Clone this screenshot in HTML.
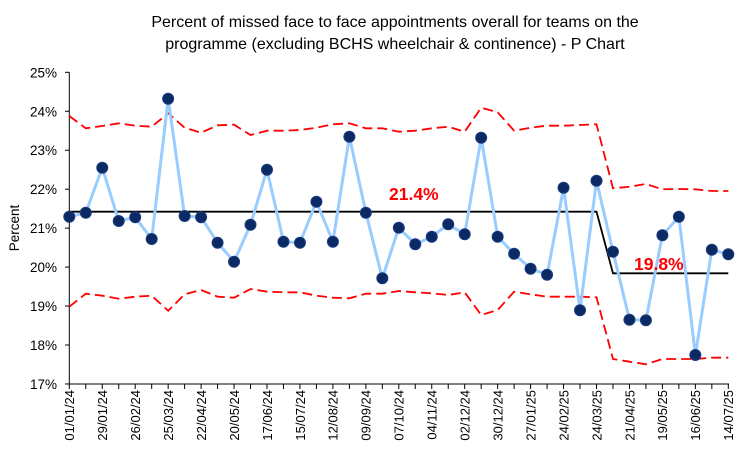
<!DOCTYPE html>
<html><head><meta charset="utf-8"><style>
body{margin:0;background:#fff;}
svg{display:block;font-family:"Liberation Sans",Arial,sans-serif;}
</style></head><body>
<svg id="c" width="752" height="453" xmlns="http://www.w3.org/2000/svg"></svg>
<script>
const s=document.getElementById('c');
const X=i=>69.3+16.475*i;
const Y=v=>72.3+(25-v)*38.96;
let h='';
h+='<text x="395" y="27" font-size="16" text-anchor="middle">Percent of missed face to face appointments overall for teams on the</text>';
h+='<text x="395" y="49" font-size="16" text-anchor="middle">programme (excluding BCHS wheelchair &amp; continence) - P Chart</text>';
for(let v=17;v<=25;v++){const y=Y(v);h+=`<line x1="65" x2="69.3" y1="${y}" y2="${y}" stroke="#000"/><text x="57" y="${y+5}" font-size="13.5" text-anchor="end">${v}%</text>`;}
h+='<text transform="translate(19,228) rotate(-90)" font-size="13.5" text-anchor="middle">Percent</text>';
h+='<line x1="69.3" x2="69.3" y1="72" y2="384" stroke="#000"/><line x1="69.3" x2="729" y1="384" y2="384" stroke="#000"/>';
const labs=["01/01/24","29/01/24","26/02/24","25/03/24","22/04/24","20/05/24","17/06/24","15/07/24","12/08/24","09/09/24","07/10/24","04/11/24","02/12/24","30/12/24","27/01/25","24/02/25","24/03/25","21/04/25","19/05/25","16/06/25","14/07/25"];
for(let i=0;i<41;i++){const x=X(i);h+=`<line x1="${x}" x2="${x}" y1="384" y2="389" stroke="#000"/>`;}
labs.forEach((l,k)=>{const x=X(2*k);h+=`<text transform="translate(${x+4.8},390) rotate(-90)" font-size="13" text-anchor="end">${l}</text>`;});
const ucl=[116,128.3,126,123.3,125.7,126.7,113.3,127.7,132.7,125.3,124.7,135,130.7,130.7,130,127.7,124.3,123.3,128.3,128.3,131.7,130.7,128.3,126.7,131.7,107.7,112.3,130.7,127.7,125.7,125.7,125,124.3,188.3,186.7,184,189.3,189,189.3,191,191];
const lcl=[306.7,293.7,295.7,298.7,296.7,295.7,310.7,294.3,290,296.7,297.7,289,291.7,292.3,292.3,295.7,297.7,298.3,293.7,293.7,291,292.3,293.3,295,292.3,315,310,291.7,294.3,296.7,296.7,296.7,297.3,359,361.7,364.3,359,359,359,357.7,357.7];
const d=[216.7,212.7,167.7,221,217.3,239,98.7,216,217.3,242.7,261.7,224.7,169.7,241.7,242.7,201.7,241.7,136.7,212.7,278.3,227.7,244.3,236.7,224.3,234.3,137.7,236.7,253.7,268.7,274.7,187.7,310.3,180.7,251.7,319.7,320.3,235.3,216.7,355,249.7,254.3];
const pl=a=>a.map((y,i)=>X(i).toFixed(1)+','+y).join(' ');
h+=`<polyline points="${pl(ucl)}" fill="none" stroke="#f00" stroke-width="1.8" stroke-dasharray="10,5"/>`;
h+=`<polyline points="${pl(lcl)}" fill="none" stroke="#f00" stroke-width="1.8" stroke-dasharray="10,5"/>`;
h+=`<polyline points="69.3,211.7 ${X(32)},211.7 ${X(33)},273.3 ${X(40)},273.3" fill="none" stroke="#000" stroke-width="1.8"/>`;
h+=`<polyline points="${pl(d)}" fill="none" stroke="#99ccff" stroke-width="3"/>`;
d.forEach((y,i)=>{h+=`<circle cx="${X(i)}" cy="${y}" r="5.5" fill="#0b2a63" stroke="#1a3c80" stroke-width="1"/>`;});
h+='<text x="389" y="200" font-size="17.5" font-weight="bold" fill="#f00">21.4%</text>';
h+='<text x="634" y="270" font-size="17.5" font-weight="bold" fill="#f00">19.8%</text>';
s.innerHTML=h;
</script>
</body></html>
